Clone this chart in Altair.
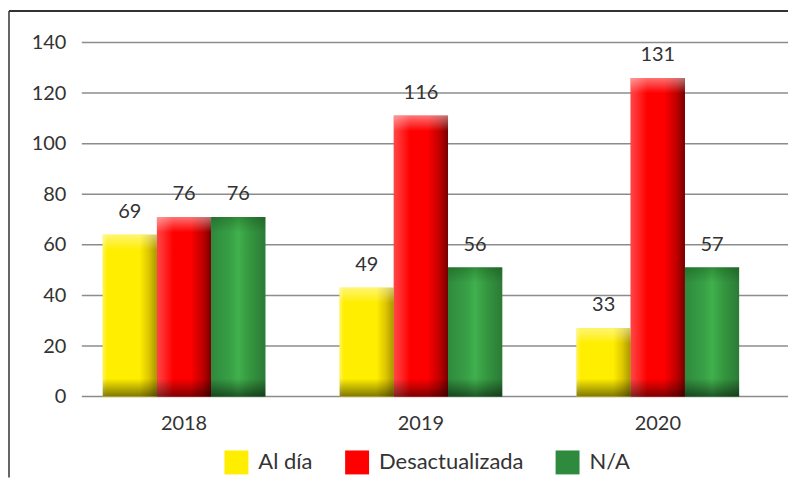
import altair as alt
import pandas as pd

years = ["2018", "2019", "2020"]
series = ["Al día", "Desactualizada", "N/A"]
# bar heights as drawn in the picture
bar_al_dia = [64, 43, 27]
bar_desact = [71, 111, 126]
bar_na = [71, 51, 51]
# value labels printed above the bars
lbl_al_dia = [69, 49, 33]
lbl_desact = [76, 116, 131]
lbl_na = [76, 56, 57]
y_ticks = [0, 20, 40, 60, 80, 100, 120, 140]
colors = ["#FFEE00", "#FF0000", "#2E8B3E"]

rows = []
for s, bars, lbls in zip(series, [bar_al_dia, bar_desact, bar_na], [lbl_al_dia, lbl_desact, lbl_na]):
    for yr, b, l in zip(years, bars, lbls):
        rows.append({"year": yr, "series": s, "bar": b, "label": str(l)})
df = pd.DataFrame(rows)
grid_df = pd.DataFrame({"bar": y_ticks})

FONT = "Lato"
TXT = "#333333"
W, H = 708, 355

x_enc = alt.X("year:N",
              scale=alt.Scale(domain=years, paddingInner=0.314, paddingOuter=0.1475, align=0.3),
              axis=alt.Axis(title=None, labelAngle=0, ticks=False, domain=False, grid=False,
                            labelFontSize=20, labelFont=FONT, labelColor=TXT, labelPadding=17))
xo_enc = alt.XOffset("series:N", scale=alt.Scale(domain=series, paddingInner=0, paddingOuter=0))
y_enc = alt.Y("bar:Q", scale=alt.Scale(domain=[0, 140], nice=False, zero=True),
              axis=alt.Axis(title=None, values=y_ticks, ticks=False, domain=False, grid=False,
                            labelFontSize=20, labelFont=FONT, labelColor=TXT, labelPadding=16))

base = alt.Chart(df)

gridlines = alt.Chart(grid_df).mark_rule(color="#8c8c8c", strokeWidth=1.5).encode(
    y=y_enc, x=alt.value(0), x2=alt.value(W))

legend_bars = base.mark_bar().encode(
    x=x_enc, xOffset=xo_enc, y=y_enc,
    color=alt.Color("series:N", scale=alt.Scale(domain=series, range=colors),
                    legend=alt.Legend(title=None, orient="none", direction="horizontal",
                                      legendX=143, legendY=409, symbolType="square",
                                      symbolSize=576, symbolStrokeWidth=0, symbolOpacity=1,
                                      labelFontSize=22, labelFont=FONT, labelColor=TXT,
                                      labelOffset=10, columnPadding=32)),
)

def lin(stops, x1=0, y1=0, x2=1, y2=0):
    return alt.LinearGradient(gradient="linear", x1=x1, y1=y1, x2=x2, y2=y2,
                              stops=[alt.GradientStop(color=c, offset=o) for o, c in stops])

grads = {
    "Al día": lin([(0, "#FFF35A"), (0.08, "#FFEE00"), (0.68, "#FFEE00"), (0.85, "#DCC600"), (1, "#A89500")]),
    "Desactualizada": lin([(0, "#FF4545"), (0.12, "#FF2C2C"), (0.3, "#FF0000"), (0.62, "#FF0000"),
                           (0.85, "#BE0000"), (1, "#760000")]),
    "N/A": lin([(0, "#2F8A3E"), (0.35, "#38A046"), (0.5, "#40B04D"), (0.72, "#34963F"), (1, "#2C7A37")]),
}

layers = [gridlines, legend_bars]
for s in series:
    layers.append(
        base.transform_filter(alt.datum.series == s).mark_bar(color=grads[s]).encode(
            x=x_enc, xOffset=xo_enc, y=y_enc)
    )

# bottom shading
layers.append(
    base.mark_bar(color=lin([(0, "rgba(0,0,0,0)"), (1, "rgba(0,0,0,0.5)")], 0, 0, 0, 1)).encode(
        x=x_enc, xOffset=xo_enc, y=alt.value(H), y2=alt.value(H - 18))
)
# top highlight
layers.append(
    base.transform_filter(alt.datum.series != "N/A").transform_calculate(top2="datum.bar - 6")
    .mark_bar(color=lin([(0, "rgba(255,255,255,0.45)"), (1, "rgba(255,255,255,0)")], 0, 0, 0, 1))
    .encode(x=x_enc, xOffset=xo_enc, y=y_enc, y2="top2:Q")
)
# green top darkening
layers.append(
    base.transform_filter(alt.datum.series == "N/A").transform_calculate(top2="datum.bar - 6")
    .mark_bar(color=lin([(0, "rgba(0,40,0,0.25)"), (1, "rgba(0,40,0,0)")], 0, 0, 0, 1))
    .encode(x=x_enc, xOffset=xo_enc, y=y_enc, y2="top2:Q")
)

labels = base.mark_text(baseline="bottom", dy=-13, fontSize=20, font=FONT, color=TXT).encode(
    x=x_enc, xOffset=xo_enc, y=y_enc, text="label:N")
layers.append(labels)

one = alt.Chart(pd.DataFrame({"a": [0]}))
frame_left = one.mark_rule(color="#333333", strokeWidth=1.5).encode(
    x=alt.value(-73), y=alt.value(-31.5), y2=alt.value(436))
frame_top = one.mark_rule(color="#333333", strokeWidth=2).encode(
    x=alt.value(-73), x2=alt.value(W), y=alt.value(-31.5))
layers += [frame_left, frame_top]

chart = alt.layer(*layers).properties(
    width=W, height=H, padding={"top": 1, "left": 0, "right": 0, "bottom": 0}
).configure_view(stroke=None)

chart.save("out.html", embed_options={"renderer": "svg", "actions": False})
